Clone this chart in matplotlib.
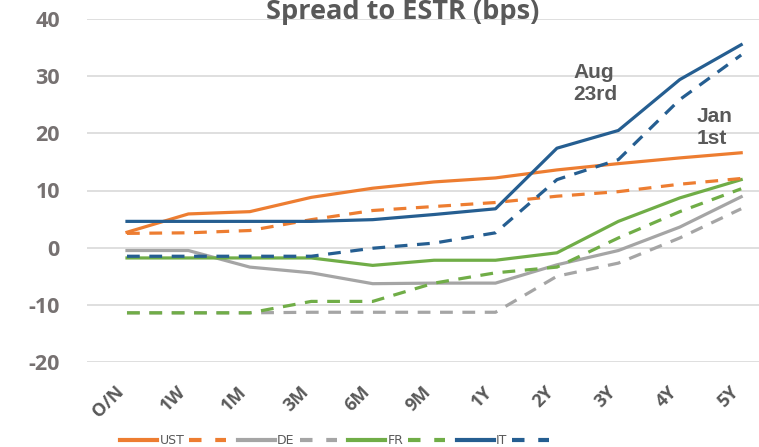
import matplotlib
matplotlib.use("Agg")
import matplotlib.pyplot as plt
import matplotlib.transforms as mtransforms
from matplotlib.lines import Line2D

tenors = ["O/N", "1W", "1M", "3M", "6M", "9M", "1Y", "2Y", "3Y", "4Y", "5Y"]

ust_aug = [2.7, 5.9, 6.3, 8.8, 10.4, 11.5, 12.2, 13.6, 14.7, 15.7, 16.6]
ust_jan = [2.5, 2.6, 3.0, 4.9, 6.5, 7.2, 7.9, 9.0, 9.8, 11.1, 12.1]
de_aug = [-0.5, -0.5, -3.4, -4.4, -6.3, -6.2, -6.2, -3.0, -0.5, 3.6, 8.9]
de_jan = [-11.4, -11.4, -11.4, -11.3, -11.3, -11.3, -11.3, -5.0, -2.7, 1.7, 6.8]
fr_aug = [-1.8, -1.8, -1.8, -1.8, -3.1, -2.2, -2.2, -0.9, 4.6, 8.7, 11.9]
fr_jan = [-11.4, -11.4, -11.4, -9.4, -9.4, -6.2, -4.4, -3.4, 1.7, 6.3, 10.3]
it_aug = [4.6, 4.6, 4.6, 4.6, 4.9, 5.8, 6.8, 17.4, 20.5, 29.4, 35.5]
it_jan = [-1.5, -1.5, -1.5, -1.5, -0.1, 0.8, 2.6, 11.9, 15.4, 25.9, 33.7]

yticks = [-20, -10, 0, 10, 20, 30, 40]

C_UST = "#ED7D31"
C_DE = "#A5A5A5"
C_FR = "#70AD47"
C_IT = "#255E91"
TXT = "#595959"

W, H = 759, 447
fig = plt.figure(figsize=(W / 100, H / 100), dpi=100)
ax = fig.add_axes([87 / W, 1 - 362 / H, 1 - 87 / W, (362 - 19) / H])

x = list(range(len(tenors)))
lw = 2.3
dash = (4, 3)
series = [
    (de_jan, C_DE, True), (de_aug, C_DE, False),
    (fr_jan, C_FR, True), (fr_aug, C_FR, False),
    (ust_jan, C_UST, True), (ust_aug, C_UST, False),
    (it_jan, C_IT, True), (it_aug, C_IT, False),
]
for vals, col, dashed in series:
    if dashed:
        ax.plot(x, vals, color=col, lw=lw, dashes=dash, solid_capstyle="butt")
    else:
        ax.plot(x, vals, color=col, lw=lw, solid_joinstyle="round")

ax.set_xlim(-0.651, 10.29)
ax.set_ylim(-20, 40)
ax.set_yticks(yticks)
ax.set_xticks(x)
ax.set_xticklabels(tenors, rotation=45, ha="right", va="top", rotation_mode="anchor",
                   fontsize=13, fontweight="bold", color=TXT, family="Open Sans")
ax.set_yticklabels([str(v) for v in yticks], fontsize=15.5, fontweight="bold",
                   color="#767171", family="Open Sans")
ax.tick_params(axis="both", length=0)
ax.tick_params(axis="y", pad=19.5)
ax.tick_params(axis="x", pad=15)
offset = mtransforms.ScaledTranslation(-12 / 100, 0, fig.dpi_scale_trans)
for lab in ax.get_xticklabels():
    lab.set_transform(lab.get_transform() + offset)
ax.yaxis.grid(True, color="#D9D9D9", lw=1.2)
ax.set_axisbelow(True)
for s in ax.spines.values():
    s.set_visible(False)

fig.text(403 / W, 1 - 19 / H, "Spread to ESTR (bps)", ha="center", va="baseline",
         fontsize=19.5, fontweight="bold", color=TXT, family="Open Sans")

ax.text(7.27, 28.8, "Aug\n23rd", fontsize=15, fontweight="bold", color=TXT,
        family="Liberation Sans", ha="left", va="center", linespacing=1.2)
ax.text(9.27, 21.0, "Jan\n1st", fontsize=15, fontweight="bold", color=TXT,
        family="Liberation Sans", ha="left", va="center", linespacing=1.2)

handles = []
labels = []
for name, col in [("UST", C_UST), ("DE", C_DE), ("FR", C_FR), ("IT", C_IT)]:
    handles.append(Line2D([], [], color=col, lw=3))
    labels.append(name)
    handles.append(Line2D([], [], color=col, lw=3, dashes=(3, 3.3)))
    labels.append(" ")
leg = fig.legend(handles, labels, loc="center", bbox_to_anchor=(338 / W, 1 - 441 / H),
                 ncol=8, frameon=False, fontsize=9, handlelength=2.95,
                 handletextpad=0.2, columnspacing=0.4, borderaxespad=0)
for t in leg.get_texts():
    t.set_color(TXT)

fig.savefig("out.png", dpi=100)
